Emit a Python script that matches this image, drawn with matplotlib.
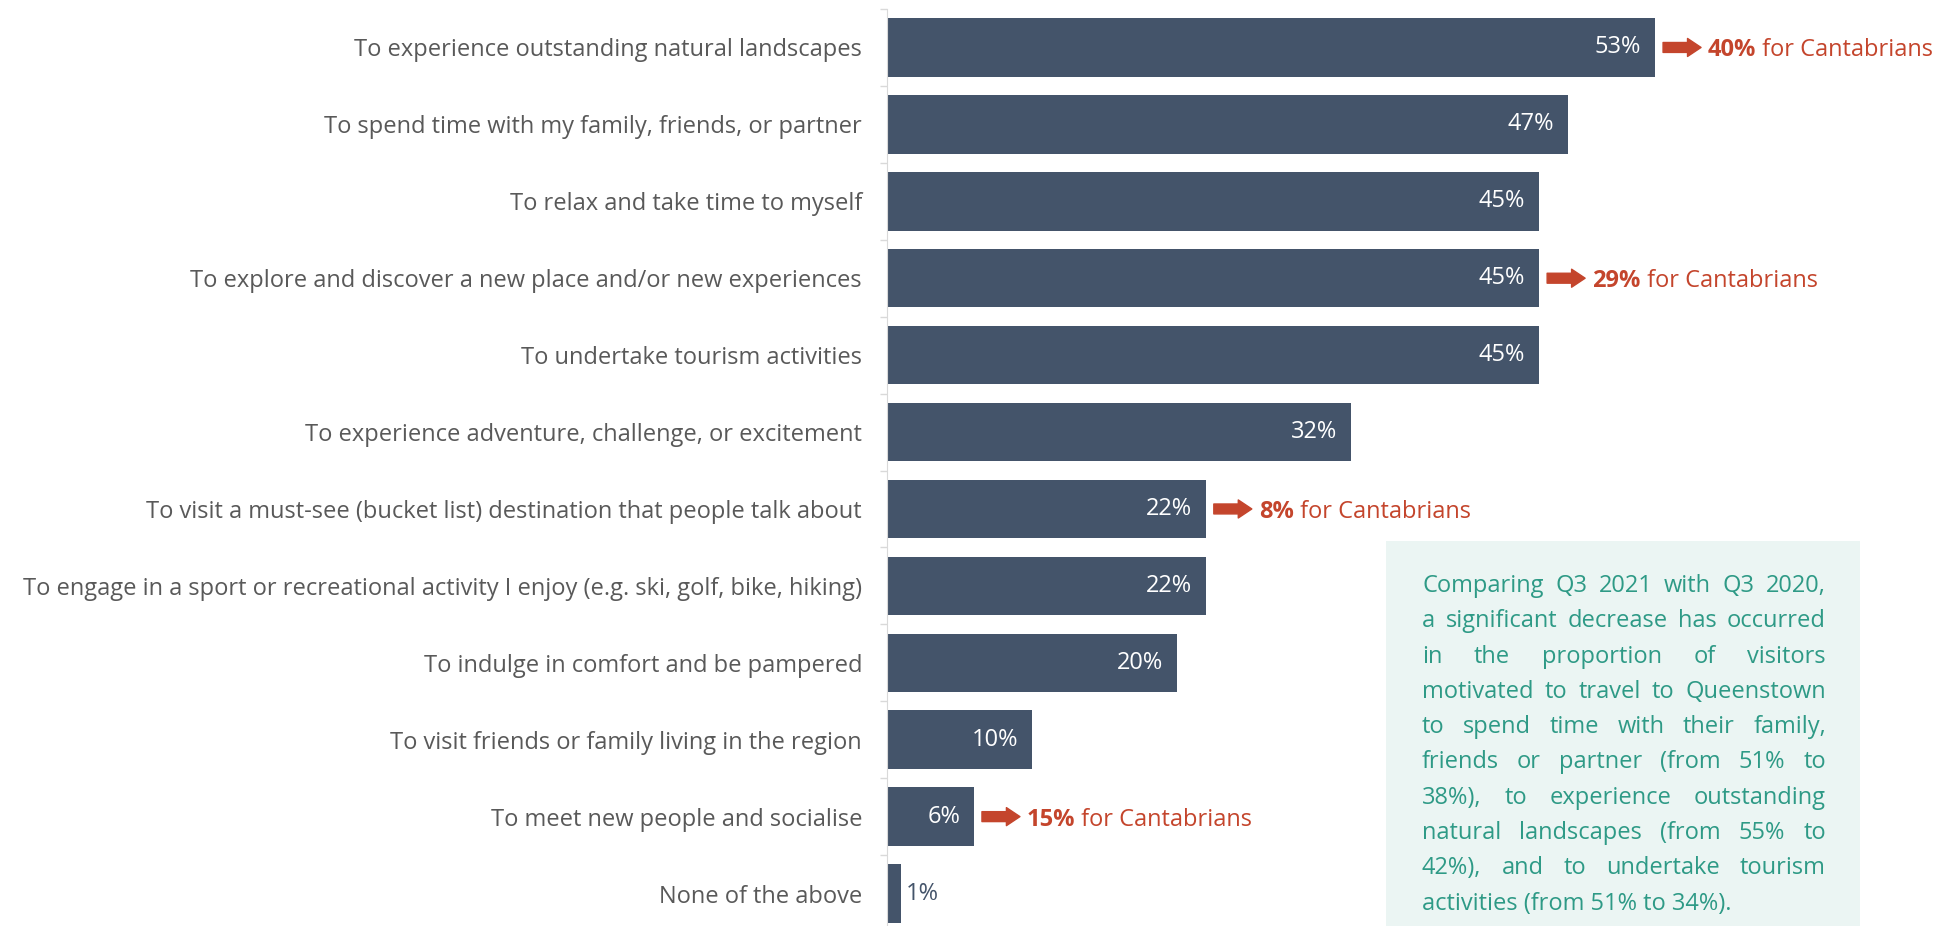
import matplotlib
matplotlib.use('Agg')
import matplotlib.pyplot as plt
from matplotlib.patches import Rectangle
from matplotlib.transforms import offset_copy, IdentityTransform
import numpy as np

# Travel motivations, share of visitors (%)
motivations = [
    'To experience outstanding natural landscapes',
    'To spend time with my family, friends, or partner',
    'To relax and take time to myself',
    'To explore and discover a new place and/or new experiences',
    'To undertake tourism activities',
    'To experience adventure, challenge, or excitement',
    'To visit a must-see (bucket list) destination that people talk about',
    'To engage in a sport or recreational activity I enjoy (e.g. ski, golf, bike, hiking)',
    'To indulge in comfort and be pampered',
    'To visit friends or family living in the region',
    'To meet new people and socialise',
    'None of the above',
]
shares = [53, 47, 45, 45, 45, 32, 22, 22, 20, 10, 6, 1]

# Cantabrian comparison call-outs
cantabrian_rows = [0, 3, 6, 10]
cantabrian_shares = [40, 29, 8, 15]

note_lines = [
    'Comparing Q3 2021 with Q3 2020,',
    'a significant decrease has occurred',
    'in the proportion of visitors',
    'motivated to travel to Queenstown',
    'to spend time with their family,',
    'friends or partner (from 51% to',
    '38%), to experience outstanding',
    'natural landscapes (from 55% to',
    '42%), and to undertake tourism',
    'activities (from 51% to 34%).',
]

BAR = '#44546A'
RED = '#C4452C'
TEAL = '#2E9A86'
BOX = '#EBF5F3'
GREY = '#595959'
LIGHT = '#D9D9D9'
FS = 17

plt.rcParams['font.family'] = ['Open Sans', 'DejaVu Sans']

W, H = 1942, 926
fig = plt.figure(figsize=(W / 100, H / 100), dpi=100)
ax = fig.add_axes([887 / W, -6 / H, 1 - 887 / W, (932 - 9) / H])
ax.set_facecolor('none')

y = np.arange(len(shares))
ax.barh(y, shares, height=0.76, color=BAR)
ax.set_ylim(len(shares) - 0.5, -0.5)
ax.set_xlim(0, 72.8)

for side in ['top', 'right', 'bottom']:
    ax.spines[side].set_visible(False)
ax.spines['left'].set_color(LIGHT)
ax.xaxis.set_visible(False)
ax.set_yticks(y)
ax.set_yticklabels(motivations, fontsize=FS, color=GREY)
ax.set_yticks(np.arange(-0.5, len(shares), 1), minor=True)
ax.tick_params(axis='y', which='major', length=0, pad=18)
ax.tick_params(axis='y', which='minor', length=5, width=1, color=LIGHT)

# value labels
for yi, v in zip(y, shares):
    if v >= 5:
        ax.annotate(f'{v}%', xy=(v, yi), xytext=(-10, 0), textcoords='offset points',
                    ha='right', va='center', color='white', fontsize=FS)
    else:
        ax.annotate(f'{v}%', xy=(v, yi), xytext=(3, 0), textcoords='offset points',
                    ha='left', va='center', color=BAR, fontsize=FS)

# arrows and Cantabrian shares
px = 0.72
arrow_tail = offset_copy(ax.transData, fig=fig, x=8 * px, y=0, units='points')
arrow_head = offset_copy(ax.transData, fig=fig, x=46 * px, y=0, units='points')
renderer = fig.canvas.get_renderer()
for row, c in zip(cantabrian_rows, cantabrian_shares):
    v = shares[row]
    ax.annotate('', xy=(v, row), xycoords=arrow_head,
                xytext=(v, row), textcoords=arrow_tail,
                arrowprops=dict(arrowstyle='simple,head_length=0.75,head_width=1.0,tail_width=0.55',
                                mutation_scale=13, fc=RED, ec=RED, shrinkA=0, shrinkB=0))
    t = ax.annotate(f'{c}%', xy=(v, row), xytext=(53 * px, 0), textcoords='offset points',
                    ha='left', va='center_baseline', color=RED, fontsize=FS, fontweight='bold')
    bb = t.get_window_extent(renderer)
    cy = ax.transData.transform((v, row))[1]
    fig.text(bb.x1, cy, ' for Cantabrians', transform=IdentityTransform(),
             ha='left', va='center_baseline', color=RED, fontsize=FS)

# note box
fig.patches.append(Rectangle((1386 / W, 0), 474 / W, (H - 541) / H,
                             transform=fig.transFigure, facecolor=BOX, edgecolor='none', zorder=0))
left, right = 1422, 1826
base = H - 592
for i, line in enumerate(note_lines):
    yb = base - i * 35.3
    words = line.split(' ')
    if i == len(note_lines) - 1:
        fig.text(left, yb, line, transform=IdentityTransform(), ha='left', va='baseline',
                 color=TEAL, fontsize=FS)
        continue
    texts = [fig.text(0, yb, w, transform=IdentityTransform(), ha='left', va='baseline',
                      color=TEAL, fontsize=FS) for w in words]
    widths = [t.get_window_extent(renderer).width for t in texts]
    gap = (right - left - sum(widths)) / (len(words) - 1)
    x = left
    for t, w in zip(texts, widths):
        t.set_x(x)
        x += w + gap

fig.savefig('out.png', dpi=100)
